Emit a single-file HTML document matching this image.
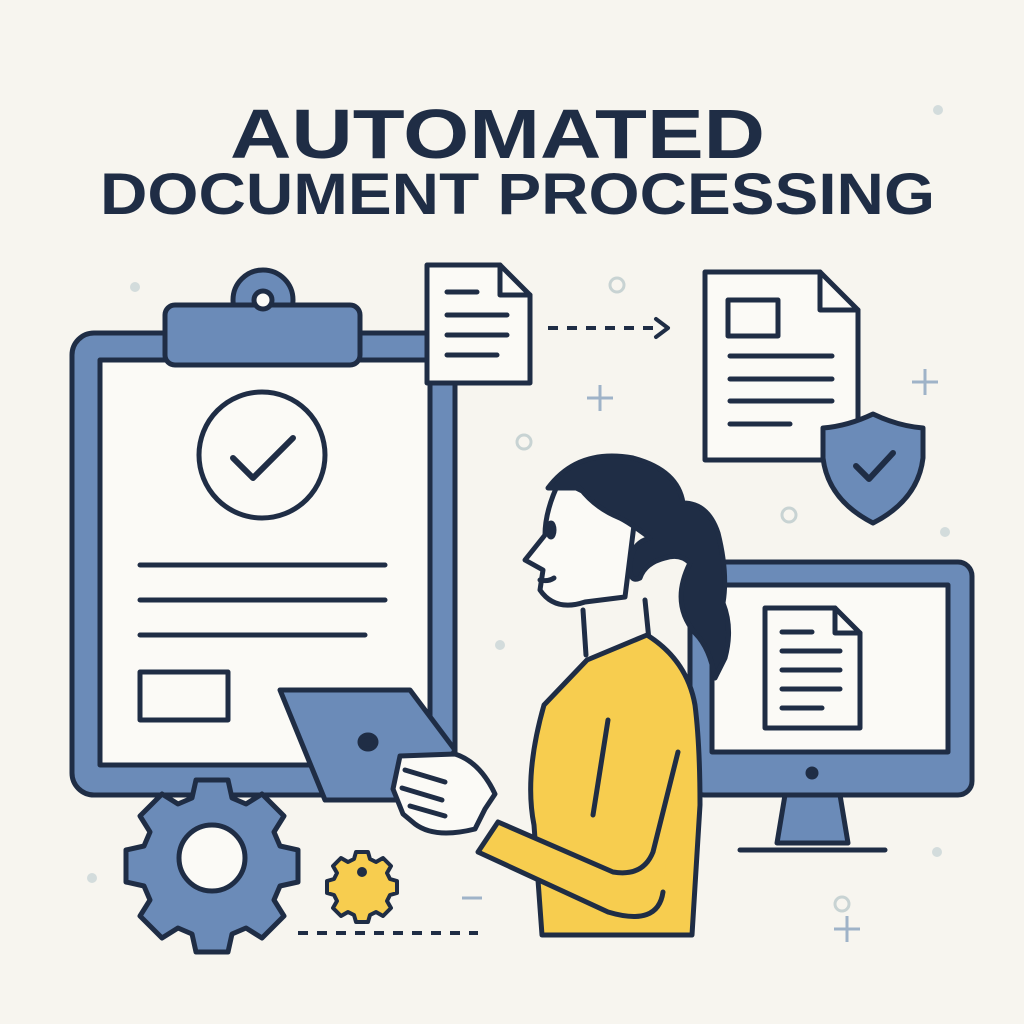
<!DOCTYPE html>
<html><head><meta charset="utf-8"><style>
html,body{margin:0;padding:0;background:#f7f5ef}
svg{display:block}
</style></head><body>
<svg width="1024" height="1024" viewBox="0 0 1024 1024" xmlns="http://www.w3.org/2000/svg">
<rect width="1024" height="1024" fill="#f7f5ef"/>
<g font-family="Liberation Sans, sans-serif" font-weight="bold" fill="#1f2d45">
<text x="230" y="158" font-size="70" textLength="535" lengthAdjust="spacingAndGlyphs">AUTOMATED</text>
<text x="100" y="214" font-size="58" textLength="835" lengthAdjust="spacingAndGlyphs">DOCUMENT PROCESSING</text>
</g>
<g fill="#d3dcdc"><circle cx="938" cy="110" r="5"/><circle cx="135" cy="287" r="5"/><circle cx="500" cy="645" r="5"/><circle cx="92" cy="878" r="5"/><circle cx="937" cy="852" r="5"/><circle cx="945" cy="532" r="5"/></g>
<g fill="none" stroke="#c8d3d3" stroke-width="3"><circle cx="617" cy="285" r="7"/><circle cx="524" cy="442" r="7"/><circle cx="789" cy="515" r="7"/><circle cx="424" cy="445" r="7"/><circle cx="842" cy="904" r="7"/></g>
<g stroke="#9fb3c8" stroke-width="3"><path d="M600 385v26M587 398h26M925 369v26M912 382h26M847 916v26M834 929h26M462 898h20"/></g>
<g stroke="#1f2d45" stroke-width="5" stroke-linejoin="round" stroke-linecap="round">
<rect x="72" y="333" width="383" height="462" rx="22" fill="#6b8bb8"/>
<rect x="100" y="360" width="330" height="405" fill="#fbfaf6"/>
<circle cx="263" cy="300" r="30" fill="#6b8bb8"/>
<rect x="165" y="305" width="195" height="60" rx="10" fill="#6b8bb8"/>
<circle cx="263" cy="300" r="9" fill="#fbfaf6"/>
<circle cx="262" cy="455" r="63" fill="none"/>
<path d="M233 458l20 20 40-40" fill="none" stroke-width="6"/>
<path d="M140 565h245M140 600h245M140 635h225"/>
<rect x="140" y="672" width="88" height="48" fill="none"/>
<path d="M427 265h73l30 30v88h-103z" fill="#fbfaf6"/><path d="M500 265v30h30" fill="none"/>
<path d="M447 292h30M447 315h60M447 335h60M447 355h50" fill="none"/>
<path d="M705 272h115l38 38v150h-153z" fill="#fbfaf6"/><path d="M820 272v38h38" fill="none"/>
<rect x="728" y="300" width="50" height="36" fill="none"/>
<path d="M730 356h102M730 379h102M730 401h102M730 424h60" fill="none"/>
<path d="M873 414q25 12 50 14v30q-5 42-50 65q-45-23-50-65v-30q25-2 50-14z" fill="#6b8bb8"/>
<path d="M856 466l13 13 24-26" fill="none" stroke-width="6"/>
<rect x="690" y="562" width="282" height="233" rx="14" fill="#6b8bb8"/>
<rect x="712" y="585" width="236" height="167" fill="#fbfaf6"/>
<circle cx="812" cy="773" r="4" fill="#1f2d45"/>
<path d="M785 795h55l8 48h-71z" fill="#6b8bb8"/>
<path d="M740 850h145"/>
<path d="M765 608h70l25 25v95h-95z" fill="#fbfaf6"/><path d="M835 608v25h25" fill="none"/>
<path d="M782 632h30M782 651h58M782 670h58M782 689h58M782 708h40" fill="none"/>
<path d="M196 780h32l4 18 14 6 16-10 22 22-10 16 6 14 18 4v32l-18 4-6 14 10 16-22 22-16-10-14 6-4 18h-32l-4-18-14-6-16 10-22-22 10-16-6-14-18-4v-32l18-4 6-14-10-16 22-22 16 10 14-6z" fill="#6b8bb8"/>
<circle cx="212" cy="858" r="33" fill="#fbfaf6"/>
<path d="M356 852h12l2 7 6 3 7-4 8 8-4 7 3 6 7 2v12l-7 2-3 6 4 7-8 8-7-4-6 3-2 7h-12l-2-7-6-3-7 4-8-8 4-7-3-6-7-2v-12l7-2 3-6-4-7 8-8 7 4 6-3z" fill="#f7cd4f" stroke-width="4"/>
<circle cx="362" cy="872" r="5" fill="#1f2d45" stroke="none"/>
<path d="M583 610l3 45" fill="none"/>
<path d="M645 600l5 50" fill="none"/>
<path d="M587 660l60-25q40 25 48 70q5 40 5 100l-8 130h-150l-8-110q-10-50 10-120z" fill="#f7cd4f"/>
<path d="M608 720l-15 95" fill="none"/>
<path d="M678 752l-25 100q-10 25-40 20l-115-50l-20 30 130 60q50 15 55-20" fill="#f7cd4f"/>
<path d="M280 690l130 0 45 60-30 50-100 0z" fill="#6b8bb8"/>
<ellipse cx="368" cy="742" rx="8" ry="7" fill="#1f2d45"/>
<path d="M400 756l55 -2q25 8 40 40l-10 15 -10 20q-40 10-60-5l-12-10-10-25z" fill="#fbfaf6"/>
<path d="M405 770l40 12M402 788l40 12M410 806l35 10" fill="none"/>
<path d="M560 480q-15 30-15 55l-20 25 18 10 -3 20q15 22 45 12l40-5 10-80z" fill="#fbfaf6"/>
<path d="M548 488q30-40 85-30q45 12 50 45q25 0 35 30q10 40 5 70q10 25 2 55l-10 20q-5-30-20-45q-25-30-5-70q-10-10-25-5q-20 5-25 20q-10 5-10-10q0-25 20-30q-20-15-30-20q-25-10-40-30z" fill="#1f2d45"/>
<ellipse cx="551" cy="530" rx="3" ry="7" fill="#1f2d45"/>
<path d="M540 580q8 2 14-2" fill="none"/>
</g>
<g stroke="#1f2d45" stroke-width="4" stroke-dasharray="10 9" fill="none">
<path d="M548 328h110"/><path d="M298 933h180"/>
</g>
<path d="M656 319l12 9-12 9" fill="none" stroke="#1f2d45" stroke-width="4" stroke-linecap="round" stroke-linejoin="round"/>
</svg>
</body></html>
